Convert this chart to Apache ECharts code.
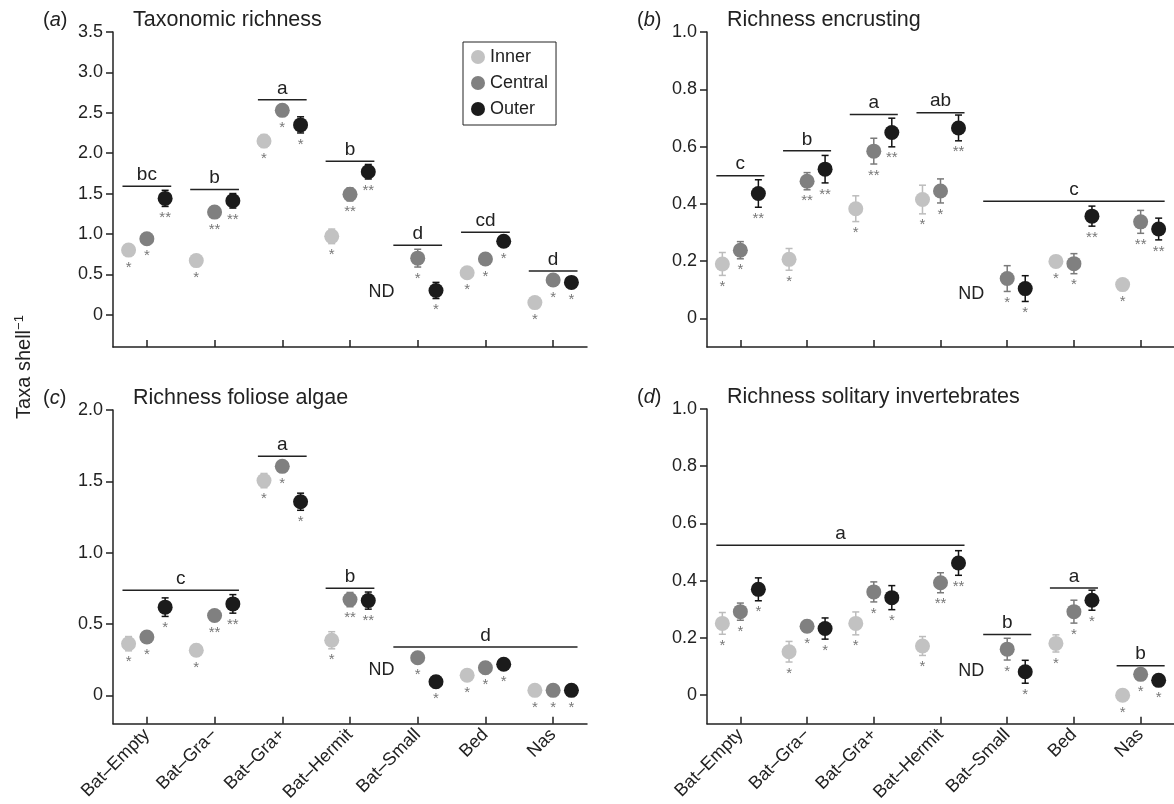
<!DOCTYPE html>
<html>
<head>
<meta charset="utf-8">
<script src="https://cdn.jsdelivr.net/npm/echarts@6/dist/echarts.min.js"></script>
<style>
  html, body { margin: 0; padding: 0; background: #fff; }
  #chart { width: 1174px; height: 804px; }
</style>
</head>
<body>
<div id="chart"></div>
<script>
// categories and zones
const categories = ['Bat–Empty', 'Bat–Gra−', 'Bat–Gra+', 'Bat–Hermit', 'Bat–Small', 'Bed', 'Nas'];
const zones = ['Inner', 'Central', 'Outer'];

// tick values for y axes
const ticksA = [0, 0.5, 1, 1.5, 2, 2.5, 3, 3.5];
const ticksB = [0, 0.2, 0.4, 0.6, 0.8, 1.0];
const ticksC = [0, 0.5, 1, 1.5, 2];
const ticksD = [0, 0.2, 0.4, 0.6, 0.8, 1.0];

// (a) Taxonomic richness   [inner, central, outer]
const taxaMean = [
  [0.80, 0.67, 2.15, 0.97, null, 0.52, 0.15],
  [0.94, 1.27, 2.53, 1.49, 0.70, 0.69, 0.43],
  [1.44, 1.41, 2.35, 1.77, 0.30, 0.91, 0.40]
];
const taxaErr = [
  [0.05, 0.05, 0.08, 0.09, null, 0.03, 0.03],
  [0.04, 0.03, 0.07, 0.08, 0.11, 0.05, 0.03],
  [0.10, 0.09, 0.10, 0.09, 0.10, 0.04, 0.03]
];
const taxaStars = [
  ['*', '*', '*', '*', '', '*', '*'],
  ['*', '**', '*', '**', '*', '*', '*'],
  ['**', '**', '*', '**', '*', '*', '*']
];
// [first category, last category, line level, letter]
const taxaGroups = [[0, 0, 1.59, 'bc'], [1, 1, 1.55, 'b'], [2, 2, 2.66, 'a'], [3, 3, 1.90, 'b'],
                    [4, 4, 0.86, 'd'], [5, 5, 1.02, 'cd'], [6, 6, 0.54, 'd']];
const taxaND = 0.28;

// (b) Richness encrusting
const encMean = [
  [0.190, 0.206, 0.383, 0.415, null, 0.199, 0.118],
  [0.238, 0.479, 0.584, 0.445, 0.139, 0.191, 0.337],
  [0.436, 0.521, 0.649, 0.665, 0.104, 0.357, 0.312]
];
const encErr = [
  [0.040, 0.038, 0.045, 0.050, null, 0.020, 0.020],
  [0.030, 0.030, 0.045, 0.042, 0.045, 0.035, 0.040],
  [0.048, 0.048, 0.050, 0.045, 0.045, 0.035, 0.038]
];
const encStars = [
  ['*', '*', '*', '*', '', '*', '*'],
  ['*', '**', '**', '*', '*', '*', '**'],
  ['**', '**', '**', '**', '*', '**', '**']
];
const encGroups = [[0, 0, 0.498, 'c'], [1, 1, 0.585, 'b'], [2, 2, 0.712, 'a'], [3, 3, 0.718, 'ab'],
                   [4, 6, 0.409, 'c']];
const encND = 0.086;

// (c) Richness foliose algae
const folMean = [
  [0.362, 0.316, 1.505, 0.386, null, 0.141, 0.035],
  [0.409, 0.560, 1.605, 0.671, 0.263, 0.193, 0.035],
  [0.618, 0.641, 1.357, 0.664, 0.095, 0.218, 0.035]
];
const folErr = [
  [0.050, 0.040, 0.050, 0.060, null, 0.015, 0.015],
  [0.035, 0.030, 0.030, 0.050, 0.035, 0.040, 0.015],
  [0.065, 0.065, 0.060, 0.060, 0.040, 0.015, 0.015]
];
const folStars = [
  ['*', '*', '*', '*', '', '*', '*'],
  ['*', '**', '*', '**', '*', '*', '*'],
  ['*', '**', '*', '**', '*', '*', '*']
];
const folGroups = [[0, 1, 0.737, 'c'], [2, 2, 1.675, 'a'], [3, 3, 0.75, 'b'], [4, 6, 0.339, 'd']];
const folND = 0.18;

// (d) Richness solitary invertebrates
const solMean = [
  [0.251, 0.152, 0.251, 0.172, null, 0.181, 0.000],
  [0.292, 0.241, 0.361, 0.393, 0.161, 0.292, 0.073],
  [0.370, 0.233, 0.341, 0.462, 0.082, 0.332, 0.052]
];
const solErr = [
  [0.038, 0.036, 0.040, 0.033, null, 0.030, 0.010],
  [0.030, 0.020, 0.035, 0.035, 0.038, 0.040, 0.010],
  [0.040, 0.037, 0.042, 0.043, 0.040, 0.035, 0.010]
];
const solStars = [
  ['*', '*', '*', '*', '', '*', '*'],
  ['*', '*', '*', '**', '*', '*', '*'],
  ['*', '*', '*', '**', '*', '*', '*']
];
const solGroups = [[0, 3, 0.524, 'a'], [4, 4, 0.212, 'b'], [5, 5, 0.375, 'a'], [6, 6, 0.103, 'b']];
const solND = 0.083;

const FONT = '"Liberation Sans", Arial, Helvetica, sans-serif';
const dotColors = ['#c2c2c2', '#808080', '#1b1b1b'];
const barColors = ['#bcbcbc', '#7a7a7a', '#111111'];
const offsets = [-0.27, 0, 0.27];

const panels = [
  { tag: 'a', title: 'Taxonomic richness', mean: taxaMean, err: taxaErr, stars: taxaStars, groups: taxaGroups, nd: taxaND,
    min: -0.4, max: 3.5, ticks: ticksA, grid: { left: 113, top: 32, width: 474, height: 315 }, xlabels: false },
  { tag: 'b', title: 'Richness encrusting', mean: encMean, err: encErr, stars: encStars, groups: encGroups, nd: encND,
    min: -0.1, max: 1.0, ticks: ticksB, grid: { left: 707, top: 32, width: 473, height: 315 }, xlabels: false },
  { tag: 'c', title: 'Richness foliose algae', mean: folMean, err: folErr, stars: folStars, groups: folGroups, nd: folND,
    min: -0.2, max: 2.0, ticks: ticksC, grid: { left: 113, top: 410, width: 474, height: 316 }, xlabels: true },
  { tag: 'd', title: 'Richness solitary invertebrates', mean: solMean, err: solErr, stars: solStars, groups: solGroups, nd: solND,
    min: -0.1, max: 1.0, ticks: ticksD, grid: { left: 707, top: 409, width: 473, height: 316 }, xlabels: true }
];

function errRender(color, stars) {
  return function (params, api) {
    const x = api.value(0), m = api.value(1), e = api.value(2), i = api.value(3);
    const c = api.coord([x, m]);
    const hi = api.coord([x, m + e]);
    const lo = api.coord([x, m - e]);
    const ls = { stroke: color, lineWidth: 1.5 };
    const starY = Math.max(lo[1] + 9, c[1] + 15) - 5;
    return {
      type: 'group',
      children: [
        { type: 'line', shape: { x1: c[0], y1: hi[1], x2: c[0], y2: lo[1] }, style: ls },
        { type: 'line', shape: { x1: c[0] - 3.5, y1: hi[1], x2: c[0] + 3.5, y2: hi[1] }, style: ls },
        { type: 'line', shape: { x1: c[0] - 3.5, y1: lo[1], x2: c[0] + 3.5, y2: lo[1] }, style: ls },
        { type: 'text', style: { text: stars[i], x: c[0], y: starY, align: 'center', verticalAlign: 'top',
          fill: '#777', font: '15px ' + FONT } }
      ]
    };
  };
}

function bracketRender(params, api) {
  const a = api.coord([api.value(0) - 0.36, api.value(2)]);
  const b = api.coord([api.value(1) + 0.36, api.value(2)]);
  return {
    type: 'group',
    children: [
      { type: 'line', shape: { x1: a[0], y1: a[1], x2: b[0], y2: b[1] }, style: { stroke: '#222', lineWidth: 1.5 } },
      { type: 'text', style: { text: api.value(3), x: (a[0] + b[0]) / 2, y: a[1] - 2, align: 'center',
        verticalAlign: 'bottom', fill: '#222', font: '19px ' + FONT } }
    ]
  };
}

function ndRender(params, api) {
  const p = api.coord([api.value(0), api.value(1)]);
  return { type: 'text', style: { text: 'ND', x: p[0] - 5, y: p[1], align: 'right', verticalAlign: 'middle',
    fill: '#222', font: '18px ' + FONT } };
}

const grids = [], xAxes = [], yAxes = [], series = [], graphics = [];
const catIdx = categories.map((c, i) => i);

panels.forEach((p, k) => {
  grids.push(p.grid);
  xAxes.push({
    type: 'value', gridIndex: k, min: -0.5, max: 6.5,
    axisLine: { onZero: false, lineStyle: { color: '#222', width: 1.5 } },
    axisTick: { show: true, inside: true, length: 7, customValues: catIdx, lineStyle: { color: '#222', width: 1.5 } },
    axisLabel: { show: p.xlabels, customValues: catIdx, rotate: 45, margin: 8, color: '#222', fontSize: 18,
      fontFamily: FONT, formatter: v => categories[Math.round(v)] },
    splitLine: { show: false }
  });
  yAxes.push({
    type: 'value', gridIndex: k, min: p.min, max: p.max,
    axisLine: { show: true, onZero: false, lineStyle: { color: '#222', width: 1.5 } },
    axisTick: { show: true, length: 7, customValues: p.ticks, lineStyle: { color: '#222', width: 1.5 } },
    axisLabel: { customValues: p.ticks, margin: 10, color: '#222', fontSize: 18, fontFamily: FONT,
      formatter: v => (v === 0 ? '0' : v.toFixed(1)) },
    splitLine: { show: false }
  });

  zones.forEach((z, g) => {
    const errData = [], dotData = [];
    p.mean[g].forEach((m, i) => {
      if (m == null) return;
      errData.push([i + offsets[g], m, p.err[g][i], i]);
      dotData.push([i + offsets[g], m]);
    });
    series.push({
      type: 'custom', name: z + ' SE', xAxisIndex: k, yAxisIndex: k, silent: true, z: 2,
      renderItem: errRender(barColors[g], p.stars[g]), data: errData
    });
    series.push({
      type: 'scatter', name: z, xAxisIndex: k, yAxisIndex: k, z: 3, symbol: 'circle', symbolSize: 15,
      itemStyle: { color: dotColors[g], opacity: 1 }, data: dotData
    });
  });

  series.push({
    type: 'custom', name: 'groups', xAxisIndex: k, yAxisIndex: k, silent: true, z: 4,
    renderItem: bracketRender, data: p.groups
  });
  series.push({
    type: 'custom', name: 'nd', xAxisIndex: k, yAxisIndex: k, silent: true, z: 4,
    renderItem: ndRender, data: [[4 + offsets[0], p.nd]]
  });

  const left = p.grid.left;
  const ty = p.grid.top - 12;
  graphics.push({
    type: 'text', x: left - 70, y: ty, style: {
      text: '({i|' + p.tag + '})', font: '20px ' + FONT, fill: '#222', verticalAlign: 'middle',
      rich: { i: { fontStyle: 'italic', fontSize: 20, fontFamily: FONT, fill: '#222' } }
    }
  });
  graphics.push({
    type: 'text', x: left + 20, y: ty, style: {
      text: p.title, font: '21.5px ' + FONT, fill: '#222', verticalAlign: 'middle'
    }
  });
});

graphics.push({
  type: 'text', x: 24, y: 367, rotation: Math.PI / 2, style: {
    text: 'Taxa shell{s|−1}', font: '20px ' + FONT, fill: '#222', align: 'center', verticalAlign: 'middle',
    rich: { s: { fontSize: 13, fontFamily: FONT, fill: '#222', verticalAlign: 'top', padding: [0, 0, 9, 0] } }
  }
});

const chart = echarts.init(document.getElementById('chart'));
chart.setOption({
  animation: false,
  backgroundColor: '#fff',
  grid: grids,
  xAxis: xAxes,
  yAxis: yAxes,
  legend: {
    data: zones.map(z => ({ name: z, icon: 'circle' })),
    orient: 'vertical', left: 463, top: 42,
    padding: [6, 8, 7, 8], itemGap: 8, itemWidth: 14, itemHeight: 14,
    borderColor: '#222', borderWidth: 1, backgroundColor: '#fff',
    textStyle: { fontSize: 18, fontFamily: FONT, color: '#222' }
  },
  graphic: graphics,
  series: series
});
</script>
</body>
</html>
